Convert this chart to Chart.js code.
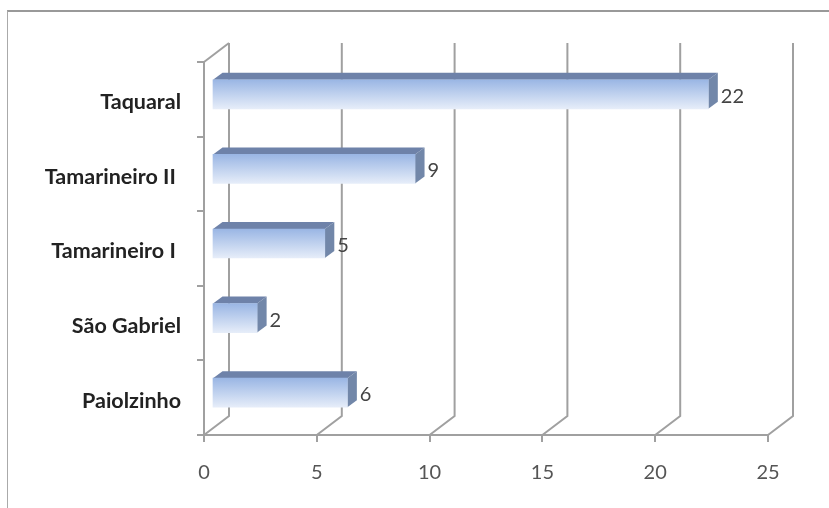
<!DOCTYPE html>
<html>
<head>
<meta charset="utf-8">
<script src="https://cdn.jsdelivr.net/npm/chart.js@4"></script>
<style>
body { margin: 0; background: #fff; }
#frame { position: absolute; left: 7px; top: 10px; width: 822px; height: 498px; border-top: 2px solid #999; border-left: 1px solid #aaa; box-sizing: border-box; }
canvas { position: absolute; left: 0; top: 0; filter: blur(0.7px); }
</style>
</head>
<body>
<canvas id="chart" width="829" height="508"></canvas>
<div id="frame"></div>
<script>
"use strict";

var categories = ["Taquaral", "Tamarineiro II ", "Tamarineiro I ", "São Gabriel", "Paiolzinho"];
var values = [22, 9, 5, 2, 6];
var xTicks = [0, 5, 10, 15, 20, 25];

var lineColor = "#a0a0a0";
var wallX = 25, wallY = -19;    // offset of the back wall
var barX = 8, barY = -5;        // bars stand a bit off the front plane
var depthX = 9.5, depthY = -7;  // depth of each bar

// back wall lines and the diagonals on the floor, behind the bars
var wallPlugin = {
    id: "wall",
    beforeDatasetsDraw: function(chart) {
        var ctx = chart.ctx, area = chart.chartArea, x = chart.scales.x;
        ctx.save();
        ctx.strokeStyle = lineColor;
        ctx.lineWidth = 2;
        xTicks.forEach(function(t) {
            var px = x.getPixelForValue(t);
            ctx.beginPath();
            ctx.moveTo(px, area.bottom);
            ctx.lineTo(px + wallX, area.bottom + wallY);
            ctx.lineTo(px + wallX, area.top + wallY);
            ctx.stroke();
        });
        ctx.beginPath();
        ctx.moveTo(area.left, area.top);
        ctx.lineTo(area.left + wallX, area.top + wallY);
        ctx.stroke();
        ctx.restore();
    }
};

// top and side faces of the bars, then the value labels
var barPlugin = {
    id: "bar3d",
    beforeDatasetDraw: function(chart) {
        var ctx = chart.ctx;
        ctx.save();
        ctx.translate(barX, barY);
        chart.getDatasetMeta(0).data.forEach(function(bar) {
            var top = bar.y - bar.height / 2, bottom = bar.y + bar.height / 2;
            ctx.fillStyle = "#6e82a9";
            ctx.beginPath();
            ctx.moveTo(bar.base, top);
            ctx.lineTo(bar.base + depthX, top + depthY);
            ctx.lineTo(bar.x + depthX, top + depthY);
            ctx.lineTo(bar.x, top);
            ctx.fill();
            ctx.fillStyle = "#7287a9";
            ctx.beginPath();
            ctx.moveTo(bar.x, top);
            ctx.lineTo(bar.x + depthX, top + depthY);
            ctx.lineTo(bar.x + depthX, bottom + depthY);
            ctx.lineTo(bar.x, bottom);
            ctx.fill();
        });
    },
    afterDatasetDraw: function(chart) {
        var ctx = chart.ctx;
        ctx.restore();
        ctx.save();
        ctx.fillStyle = "#444";
        ctx.font = "20px Lato";
        ctx.textAlign = "left";
        ctx.textBaseline = "middle";
        chart.getDatasetMeta(0).data.forEach(function(bar, i) {
            ctx.fillText(values[i], bar.x + barX + 12.5, bar.y + barY + 2);
        });
        ctx.restore();
    }
};

function barGradient(context) {
    var chart = context.chart;
    var mid = chart.scales.y ? chart.scales.y.getPixelForValue(context.dataIndex) : NaN;
    if (!isFinite(mid)) return "#a8c0e8";
    var grad = chart.ctx.createLinearGradient(0, mid - 14.5, 0, mid + 14.5);
    grad.addColorStop(0, "#9ab6e4");
    grad.addColorStop(1, "#e6edf9");
    return grad;
}

new Chart(document.getElementById("chart"), {
    type: "bar",
    data: {
        labels: categories,
        datasets: [{
            data: values,
            backgroundColor: barGradient,
            borderWidth: 0,
            barThickness: 29,
            clip: false
        }]
    },
    options: {
        indexAxis: "y",
        responsive: false,
        animation: false,
        layout: { padding: { top: 62, right: 61, bottom: 0, left: 0 } },
        plugins: { legend: { display: false }, tooltip: { enabled: false } },
        scales: {
            x: {
                min: 0,
                max: 25,
                afterFit: function(scale) { scale.height = 73; },
                afterBuildTicks: function(scale) {
                    scale.ticks = xTicks.map(function(t) { return { value: t }; });
                },
                grid: { drawOnChartArea: false, tickLength: 7, color: lineColor, lineWidth: 2 },
                border: { color: lineColor, width: 2 },
                ticks: { color: "#555", font: { family: "Lato", size: 20 }, padding: 19, maxRotation: 0 }
            },
            y: {
                afterFit: function(scale) { scale.width = 204; },
                grid: { drawOnChartArea: false, tickLength: 7, color: lineColor, lineWidth: 2 },
                border: { color: lineColor, width: 2 },
                ticks: { color: "#222", font: { family: "Lato", size: 21.5, weight: "bold" }, padding: 16, labelOffset: 3 }
            }
        }
    },
    plugins: [wallPlugin, barPlugin]
});
</script>
</body>
</html>
